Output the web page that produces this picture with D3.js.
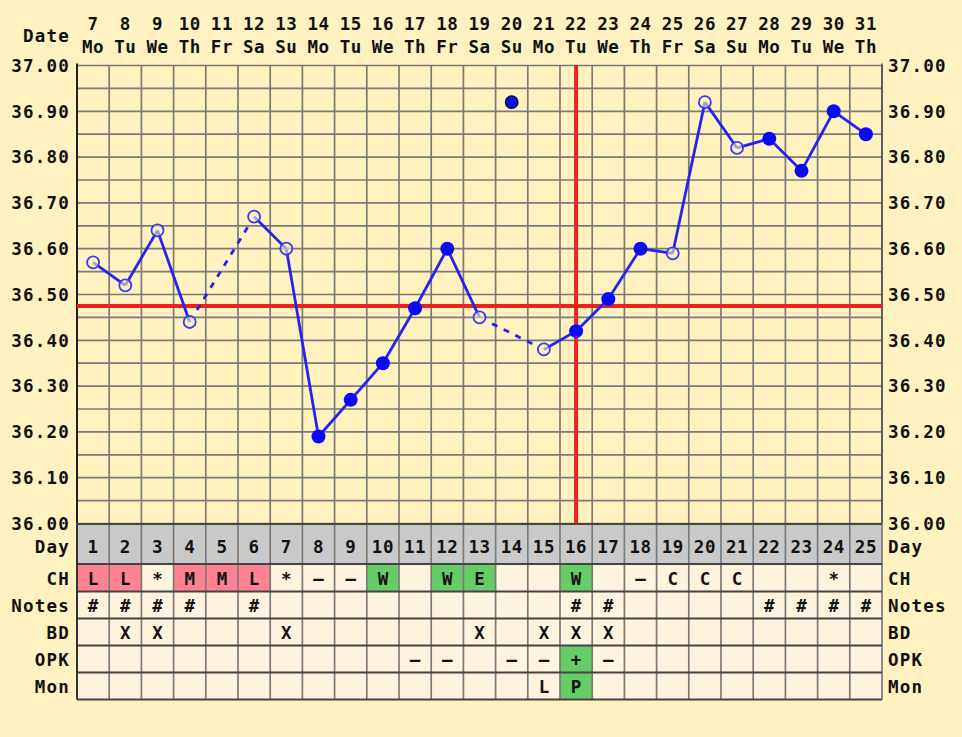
<!DOCTYPE html>
<html><head><meta charset="utf-8">
<script src="https://cdn.jsdelivr.net/npm/d3@7"></script>
<style>
html,body{margin:0;padding:0;background:#FFF2C0;}
svg{display:block;}
text{font-family:"DejaVu Sans Mono",monospace;font-weight:bold;fill:#111;}
</style></head><body>
<svg id="c" width="962" height="737"></svg>
<script>
// ---- data ----
const cycleDays = d3.range(1, 26);
const dates = [7,8,9,10,11,12,13,14,15,16,17,18,19,20,21,22,23,24,25,26,27,28,29,30,31];
const weekdays = ["Mo","Tu","We","Th","Fr","Sa","Su","Mo","Tu","We","Th","Fr","Sa","Su","Mo","Tu","We","Th","Fr","Sa","Su","Mo","Tu","We","Th"];
const temps = [36.57,36.52,36.64,36.44,null,36.67,36.60,36.19,36.27,36.35,36.47,36.60,36.45,null,36.38,36.42,36.49,36.60,36.59,36.92,36.82,36.84,36.77,36.90,36.85];
const openMarker = [1,1,1,1,0,1,1,0,0,0,0,0,1,0,1,0,0,0,1,1,1,0,0,0,0];
const discardedDay = [14];
const discardedTemp = [36.92];
const yTicks = [36.0,36.1,36.2,36.3,36.4,36.5,36.6,36.7,36.8,36.9,37.0];
const coverline = 36.475;
const ovulationDay = 16;
const chRow = ["L","L","*","M","M","L","*","-","-","W","","W","E","","","W","","-","C","C","C","","","*",""];
const notesRow = ["#","#","#","#","","#","","","","","","","","","","#","#","","","","","#","#","#","#"];
const bdRow = ["","X","X","","","","X","","","","","","X","","X","X","X","","","","","","","",""];
const opkRow = ["","","","","","","","","","","-","-","","-","-","+","-","","","","","","","",""];
const monRow = ["","","","","","","","","","","","","","","L","P","","","","","","","","",""];
const rowNames = ["CH","Notes","BD","OPK","Mon"];
const pinkCodes = ["L","M","H"];
const greenCodes = ["W","E","+","P"];

// ---- layout ----
const L = 77, R = 882, T = 65.5, B = 523.5;
const svg = d3.select("#c");
const x = d3.scaleLinear().domain([0.5, 25.5]).range([L, R]);
const y = d3.scaleLinear().domain([36, 37]).range([B, T]);
const colW = x(2) - x(1);

svg.append("rect").attr("x",L).attr("y",T).attr("width",R-L).attr("height",B-T).attr("fill","#FFF2BE");

const gridCol = "#7a7a7a";
const hLines = d3.range(0, 21).map(i => 36 + i*0.05);
svg.append("g").selectAll("line").data(hLines).join("line")
  .attr("x1",L).attr("x2",R).attr("y1",d=>y(d)).attr("y2",d=>y(d))
  .attr("stroke",gridCol).attr("stroke-width",1.7);
const vBounds = d3.range(0, 26).map(i => 0.5 + i);
svg.append("g").selectAll("line").data(vBounds).join("line")
  .attr("x1",d=>x(d)).attr("x2",d=>x(d)).attr("y1",T).attr("y2",B)
  .attr("stroke",gridCol).attr("stroke-width",1.7);
svg.append("line").attr("x1",L).attr("x2",L).attr("y1",T-2).attr("y2",B).attr("stroke","#222").attr("stroke-width",2);
svg.append("line").attr("x1",R).attr("x2",R).attr("y1",T-2).attr("y2",B).attr("stroke","#555").attr("stroke-width",1.7);

svg.append("g").selectAll("text").data(yTicks).join("text")
  .attr("x",70).attr("y",d=>y(d)).attr("dy","0.36em").attr("text-anchor","end")
  .attr("font-size",17.5).attr("letter-spacing",1.2).text(d=>d.toFixed(2));
svg.append("g").selectAll("text").data(yTicks).join("text")
  .attr("x",888).attr("y",d=>y(d)).attr("dy","0.36em").attr("text-anchor","start")
  .attr("font-size",17.5).attr("letter-spacing",1.2).text(d=>d.toFixed(2));

svg.append("text").attr("x",70).attr("y",36).attr("dy","0.36em").attr("text-anchor","end")
  .attr("font-size",17.5).attr("letter-spacing",1.2).text("Date");
svg.append("g").selectAll("text").data(cycleDays).join("text")
  .attr("x",d=>x(d)).attr("y",24).attr("dy","0.36em").attr("text-anchor","middle")
  .attr("font-size",17.5).attr("letter-spacing",0.5).text((d,i)=>dates[i]);
svg.append("g").selectAll("text").data(cycleDays).join("text")
  .attr("x",d=>x(d)).attr("y",47).attr("dy","0.36em").attr("text-anchor","middle")
  .attr("font-size",17.5).attr("letter-spacing",0.5).text((d,i)=>weekdays[i]);

svg.append("line").attr("x1",x(ovulationDay)).attr("x2",x(ovulationDay)).attr("y1",T).attr("y2",B+1)
  .attr("stroke","#EE2020").attr("stroke-width",4);
svg.append("line").attr("x1",L).attr("x2",R).attr("y1",y(coverline)).attr("y2",y(coverline))
  .attr("stroke","#EE2020").attr("stroke-width",4);

const pts = cycleDays.map((d,i)=>({d, t:temps[i], open:openMarker[i]})).filter(p=>p.t!==null);
const lineCol = "#2424F0";
for (let k=0;k<pts.length-1;k++){
  const a=pts[k], b=pts[k+1];
  const x1=x(a.d), y1=y(a.t), x2=x(b.d), y2=y(b.t);
  const dashed = (b.d - a.d) > 1;
  if (!dashed){
    svg.append("line").attr("x1",x1).attr("y1",y1).attr("x2",x2).attr("y2",y2)
      .attr("stroke",lineCol).attr("stroke-width",2.8);
  } else {
    const len=Math.hypot(x2-x1,y2-y1), ux=(x2-x1)/len, uy=(y2-y1)/len, g=14;
    svg.append("line").attr("x1",x1+ux*g).attr("y1",y1+uy*g).attr("x2",x2-ux*6).attr("y2",y2-uy*6)
      .attr("stroke",lineCol).attr("stroke-width",2.8).attr("stroke-dasharray","6,7");
  }
}
svg.append("g").selectAll("circle").data(pts.filter(p=>p.open)).join("circle")
  .attr("cx",p=>x(p.d)).attr("cy",p=>y(p.t)).attr("r",6)
  .attr("fill","#FFF2BE").attr("fill-opacity",0.6).attr("stroke","#3a3af5").attr("stroke-width",1.8);
svg.append("g").selectAll("circle").data(pts.filter(p=>!p.open)).join("circle")
  .attr("cx",p=>x(p.d)).attr("cy",p=>y(p.t)).attr("r",7).attr("fill","#0A0AF5");
svg.append("g").selectAll("circle").data(discardedDay).join("circle")
  .attr("cx",d=>x(d)).attr("cy",(d,i)=>y(discardedTemp[i])).attr("r",6.2)
  .attr("fill","#0A0AF5").attr("stroke","#0a0a40").attr("stroke-width",1.5);

// ---- table ----
const dayTop = 524, dayBot = 564;
const rowTops = [564.5, 591.5, 618.5, 645.5, 672.5];
const rowH = 27;
const tableBot = rowTops[4] + rowH;
svg.append("rect").attr("x",L).attr("y",dayTop).attr("width",R-L).attr("height",dayBot-dayTop).attr("fill","#C9C9C9");
svg.append("rect").attr("x",L).attr("y",dayBot).attr("width",R-L).attr("height",tableBot-dayBot).attr("fill","#FDF3DF");
const rowsData = [chRow, notesRow, bdRow, opkRow, monRow];
rowsData.forEach((row, r) => {
  row.forEach((v, i) => {
    const d = i+1;
    let fill = null;
    if (r===0 && pinkCodes.includes(v)) fill = "#FF8294";
    if (greenCodes.includes(v)) fill = "#66CC66";
    if (fill) svg.append("rect").attr("x",x(d-0.5)).attr("y",rowTops[r]).attr("width",colW).attr("height",rowH).attr("fill",fill);
    if (v) svg.append("text").attr("x",x(d)).attr("y",rowTops[r]+rowH/2+0.5).attr("dy","0.36em")
      .attr("text-anchor","middle").attr("font-size",17.5).text(v === "-" ? "–" : v);
  });
  svg.append("text").attr("x",70).attr("y",rowTops[r]+rowH/2+0.5).attr("dy","0.36em").attr("text-anchor","end")
    .attr("font-size",17.5).attr("letter-spacing",1.2).text(rowNames[r]);
  svg.append("text").attr("x",888).attr("y",rowTops[r]+rowH/2+0.5).attr("dy","0.36em").attr("text-anchor","start")
    .attr("font-size",17.5).attr("letter-spacing",1.2).text(rowNames[r]);
});
svg.append("g").selectAll("text").data(cycleDays).join("text")
  .attr("x",d=>x(d)).attr("y",547).attr("dy","0.36em").attr("text-anchor","middle")
  .attr("font-size",17.5).attr("letter-spacing",0.5).text(d=>d);
svg.append("text").attr("x",70).attr("y",547).attr("dy","0.36em").attr("text-anchor","end")
  .attr("font-size",17.5).attr("letter-spacing",1.2).text("Day");
svg.append("text").attr("x",888).attr("y",547).attr("dy","0.36em").attr("text-anchor","start")
  .attr("font-size",17.5).attr("letter-spacing",1.2).text("Day");
svg.append("g").selectAll("line").data(vBounds).join("line")
  .attr("x1",d=>x(d)).attr("x2",d=>x(d)).attr("y1",dayTop).attr("y2",tableBot)
  .attr("stroke","#7a7a7a").attr("stroke-width",1.7);
const hT = [dayTop, dayBot, ...rowTops.slice(1), tableBot];
svg.append("g").selectAll("line").data(hT).join("line")
  .attr("x1",L).attr("x2",R).attr("y1",d=>d).attr("y2",d=>d)
  .attr("stroke","#444").attr("stroke-width",2);
svg.append("line").attr("x1",L).attr("x2",L).attr("y1",dayTop).attr("y2",tableBot).attr("stroke","#333").attr("stroke-width",2);
</script></body></html>
